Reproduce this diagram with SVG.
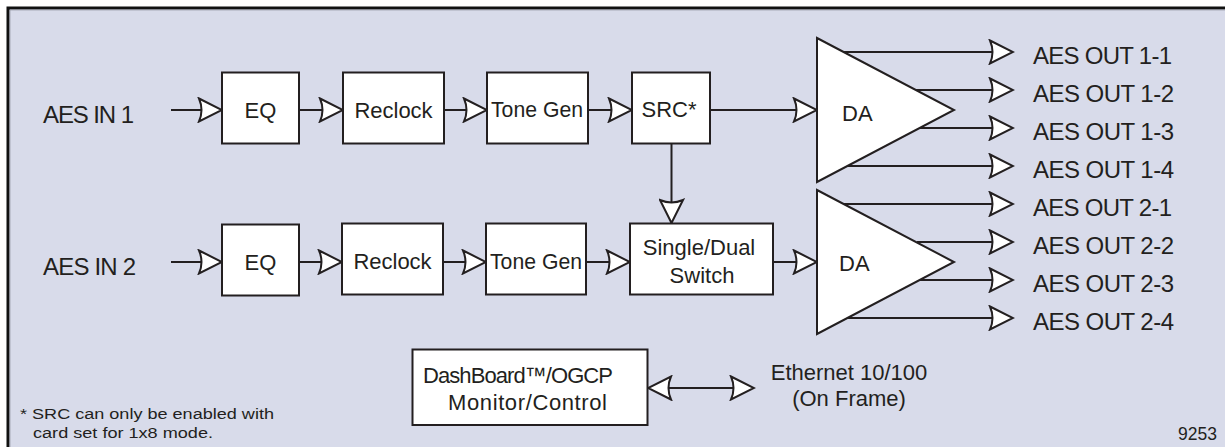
<svg xmlns="http://www.w3.org/2000/svg" width="1225" height="447" viewBox="0 0 1225 447">
<defs>
<style>
.bg{fill:#d8dbea;stroke:#111;stroke-width:3}
.box{fill:#fff;stroke:#231f20;stroke-width:2}
.tri{fill:#fff;stroke:#231f20;stroke-width:2;stroke-linejoin:miter}
.ln{fill:none;stroke:#231f20;stroke-width:2}
.ar{marker-end:url(#ah)}
text{font-family:"Liberation Sans",Arial,sans-serif;fill:#231f20}
.lbl{font-size:24px}
.bx{font-size:22px}
.sm{font-size:17.5px}
.note{font-size:15.5px}
.mid{text-anchor:middle}
</style>
<marker id="ah" viewBox="-25 -13 27 26" refX="0" refY="0" markerUnits="userSpaceOnUse" markerWidth="27" markerHeight="26" orient="auto-start-reverse">
<path d="M-23,-11.5 L0,0 L-23,11.5 Q-18,0 -23,-11.5 Z" fill="#fff" stroke="#231f20" stroke-width="2" stroke-linejoin="miter"/>
</marker>
</defs>
<rect class="bg" x="8" y="8" width="1230" height="450"/>
<line x1="10" y1="9.8" x2="1225" y2="9.8" stroke="#8a8c96" stroke-width="1"/>
<line x1="9.8" y1="10" x2="9.8" y2="447" stroke="#8a8c96" stroke-width="1"/>

<g id="connectors">
<path class="ln ar" d="M171,110 L222,110"/>
<path class="ln ar" d="M299,110 L343,110"/>
<path class="ln ar" d="M444,110 L487,110"/>
<path class="ln ar" d="M588,110 L632,110"/>
<path class="ln ar" d="M710,110 L817,110"/>
<path class="ln ar" d="M671.5,143.5 L671.5,223"/>
<path class="ln ar" d="M171,262 L222,262"/>
<path class="ln ar" d="M299,262 L342,262"/>
<path class="ln ar" d="M443,262 L486,262"/>
<path class="ln ar" d="M586,262 L630,262"/>
<path class="ln ar" d="M773,262 L817,262"/>
<path class="ln ar" d="M843,52 L1013,52"/>
<path class="ln ar" d="M916,90 L1013,90"/>
<path class="ln ar" d="M920,128 L1013,128"/>
<path class="ln ar" d="M848,166 L1013,166"/>
<path class="ln ar" d="M844,204 L1013,204"/>
<path class="ln ar" d="M917,242 L1013,242"/>
<path class="ln ar" d="M920,280 L1013,280"/>
<path class="ln ar" d="M848,318 L1013,318"/>
<path class="ln" d="M648,388 L754,388" marker-start="url(#ah)" marker-end="url(#ah)"/>
</g>

<g id="in1"><text class="lbl" x="43" y="123" textLength="91">AES IN 1</text></g>
<g id="in2"><text class="lbl" x="43" y="275" textLength="93">AES IN 2</text></g>

<g id="eq1"><rect class="box" x="222" y="72.5" width="77" height="71"/><text class="bx mid" x="260.5" y="118">EQ</text></g>
<g id="reclock1"><rect class="box" x="343" y="72.5" width="101" height="71"/><text class="bx mid" x="393.5" y="118">Reclock</text></g>
<g id="tonegen1"><rect class="box" x="487" y="72.5" width="101" height="71"/><text class="bx mid" x="537" y="117" textLength="92" lengthAdjust="spacingAndGlyphs">Tone Gen</text></g>
<g id="src1"><rect class="box" x="632" y="72.5" width="78" height="71"/><text class="bx mid" x="669" y="117">SRC*</text></g>

<g id="eq2"><rect class="box" x="222" y="224.5" width="77" height="71"/><text class="bx mid" x="260.5" y="270">EQ</text></g>
<g id="reclock2"><rect class="box" x="342" y="223.5" width="101" height="71"/><text class="bx mid" x="392.5" y="269">Reclock</text></g>
<g id="tonegen2"><rect class="box" x="486" y="223.5" width="100" height="71"/><text class="bx mid" x="536" y="269" textLength="92" lengthAdjust="spacingAndGlyphs">Tone Gen</text></g>
<g id="switch"><rect class="box" x="630" y="223.5" width="143" height="71"/><text class="bx mid" x="699" y="255">Single/Dual</text><text class="bx mid" x="702" y="283">Switch</text></g>

<g id="da1"><path class="tri" d="M817,38 L954,110 L817,182 Z"/><text class="bx" x="842" y="121">DA</text></g>
<g id="da2"><path class="tri" d="M817,190 L954,262 L817,334 Z"/><text class="bx" x="839" y="271">DA</text></g>

<g id="outs1">
<text class="lbl" x="1033" y="64" textLength="139">AES OUT 1-1</text>
<text class="lbl" x="1033" y="102" textLength="141">AES OUT 1-2</text>
<text class="lbl" x="1033" y="140" textLength="141">AES OUT 1-3</text>
<text class="lbl" x="1033" y="178" textLength="141">AES OUT 1-4</text>
</g>
<g id="outs2">
<text class="lbl" x="1033" y="216" textLength="139">AES OUT 2-1</text>
<text class="lbl" x="1033" y="254" textLength="141">AES OUT 2-2</text>
<text class="lbl" x="1033" y="292" textLength="141">AES OUT 2-3</text>
<text class="lbl" x="1033" y="330" textLength="141">AES OUT 2-4</text>
</g>

<g id="dashboard"><rect class="box" x="412.5" y="349.5" width="235" height="75.5"/><text class="bx" x="423" y="383" textLength="190">DashBoard™/OGCP</text><text class="bx" x="448" y="410" textLength="159">Monitor/Control</text></g>
<g id="ethernet"><text class="bx mid" x="849" y="380">Ethernet 10/100</text><text class="bx mid" x="849" y="406">(On Frame)</text></g>

<g id="note"><text class="note" x="20" y="418.5" textLength="254" lengthAdjust="spacingAndGlyphs">* SRC can only be enabled with</text><text class="note" x="33" y="437.5" textLength="180" lengthAdjust="spacingAndGlyphs">card set for 1x8 mode.</text></g>
<g id="fignum"><text class="sm" x="1178" y="440">9253</text></g>
</svg>
